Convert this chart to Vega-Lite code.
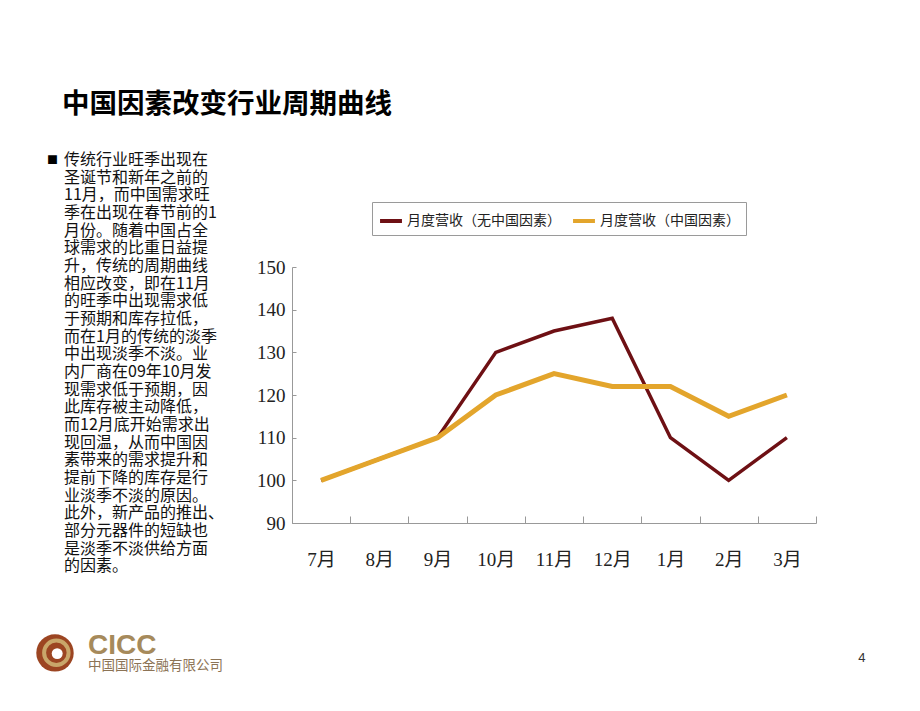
{
  "$schema": "https://vega.github.io/schema/vega-lite/v6.json",
  "background": "white",
  "padding": {"left": 36, "top": 90, "right": 5, "bottom": 5},
  "bounds": "flush",
  "spacing": 228,
  "resolve": {"scale": {"color": "independent"}, "legend": {"color": "independent"}},
  "title": {"text": "中国因素改变行业周期曲线", "anchor": "start", "dx": 26, "offset": 33, "fontSize": 27.5, "font": "Noto Sans CJK SC", "fontWeight": "bold", "color": "#000"},
  "hconcat": [
    {
      "width": 17,
      "height": 424,
      "layer": [
        {
          "data": {"values": [
            {"line": 1, "t": "传统行业旺季出现在"},
            {"line": 2, "t": "圣诞节和新年之前的"},
            {"line": 3, "t": "11月，而中国需求旺"},
            {"line": 4, "t": "季在出现在春节前的1"},
            {"line": 5, "t": "月份。随着中国占全"},
            {"line": 6, "t": "球需求的比重日益提"},
            {"line": 7, "t": "升，传统的周期曲线"},
            {"line": 8, "t": "相应改变，即在11月"},
            {"line": 9, "t": "的旺季中出现需求低"},
            {"line": 10, "t": "于预期和库存拉低，"},
            {"line": 11, "t": "而在1月的传统的淡季"},
            {"line": 12, "t": "中出现淡季不淡。业"},
            {"line": 13, "t": "内厂商在09年10月发"},
            {"line": 14, "t": "现需求低于预期，因"},
            {"line": 15, "t": "此库存被主动降低，"},
            {"line": 16, "t": "而12月底开始需求出"},
            {"line": 17, "t": "现回温，从而中国因"},
            {"line": 18, "t": "素带来的需求提升和"},
            {"line": 19, "t": "提前下降的库存是行"},
            {"line": 20, "t": "业淡季不淡的原因。"},
            {"line": 21, "t": "此外，新产品的推出、"},
            {"line": 22, "t": "部分元器件的短缺也"},
            {"line": 23, "t": "是淡季不淡供给方面"},
            {"line": 24, "t": "的因素。"}
          ]},
          "mark": {"type": "text", "align": "left", "baseline": "middle", "fontSize": 16, "font": "Noto Sans CJK SC", "color": "#111"},
          "encoding": {
            "x": {"datum": 1, "type": "quantitative", "scale": {"domain": [0, 1], "nice": false, "zero": false}, "axis": null},
            "y": {"field": "line", "type": "quantitative", "scale": {"domain": [0.5, 24.5], "reverse": true, "nice": false, "zero": false}, "axis": null},
            "text": {"field": "t"}
          }
        },
        {
          "data": {"values": [{}]},
          "mark": {"type": "text", "align": "left", "baseline": "middle", "fontSize": 11, "font": "Noto Sans CJK SC", "color": "#000", "text": "■"},
          "encoding": {
            "x": {"datum": 0, "type": "quantitative"},
            "y": {"datum": 1.05, "type": "quantitative"}
          }
        },
        {
          "data": {"values": [{}]},
          "mark": {"type": "point", "shape": "circle", "filled": true, "size": 1400, "color": "#9C4522", "opacity": 1},
          "encoding": {
            "x": {"datum": 0.47, "type": "quantitative"},
            "y": {"datum": 28.91, "type": "quantitative"}
          }
        },
        {
          "data": {"values": [{}]},
          "mark": {"type": "point", "shape": "circle", "filled": false, "size": 600, "color": "#C9A66A", "strokeWidth": 4, "opacity": 1},
          "encoding": {
            "x": {"datum": 0.55, "type": "quantitative"},
            "y": {"datum": 28.9, "type": "quantitative"}
          }
        },
        {
          "data": {"values": [{}]},
          "mark": {"type": "point", "shape": "circle", "filled": true, "size": 120, "color": "#ffffff", "opacity": 1},
          "encoding": {
            "x": {"datum": 0.6, "type": "quantitative"},
            "y": {"datum": 28.95, "type": "quantitative"}
          }
        },
        {
          "data": {"values": [{}]},
          "mark": {"type": "text", "align": "left", "baseline": "middle", "fontSize": 28, "font": "Liberation Sans", "fontWeight": "bold", "color": "#A68A5B", "text": "CICC"},
          "encoding": {
            "x": {"datum": 2.41, "type": "quantitative"},
            "y": {"datum": 28.52, "type": "quantitative"}
          }
        },
        {
          "data": {"values": [{}]},
          "mark": {"type": "text", "align": "left", "baseline": "middle", "fontSize": 13.5, "font": "Noto Sans CJK SC", "color": "#8C7355", "text": "中国国际金融有限公司"},
          "encoding": {
            "x": {"datum": 2.41, "type": "quantitative"},
            "y": {"datum": 29.65, "type": "quantitative"}
          }
        },
        {
          "data": {"values": [{}]},
          "mark": {"type": "text", "align": "center", "baseline": "middle", "fontSize": 13, "font": "Liberation Sans", "color": "#333", "text": "4"},
          "encoding": {
            "x": {"datum": 47.94, "type": "quantitative"},
            "y": {"datum": 29.2, "type": "quantitative"}
          }
        }
      ]
    },
    {
      "width": 524,
      "height": 372,
      "data": {"values": [
        {"month": "7月", "series": "月度营收（无中国因素）", "value": 100},
        {"month": "8月", "series": "月度营收（无中国因素）", "value": 105},
        {"month": "9月", "series": "月度营收（无中国因素）", "value": 110},
        {"month": "10月", "series": "月度营收（无中国因素）", "value": 130},
        {"month": "11月", "series": "月度营收（无中国因素）", "value": 135},
        {"month": "12月", "series": "月度营收（无中国因素）", "value": 138},
        {"month": "1月", "series": "月度营收（无中国因素）", "value": 110},
        {"month": "2月", "series": "月度营收（无中国因素）", "value": 100},
        {"month": "3月", "series": "月度营收（无中国因素）", "value": 110},
        {"month": "7月", "series": "月度营收（中国因素）", "value": 100},
        {"month": "8月", "series": "月度营收（中国因素）", "value": 105},
        {"month": "9月", "series": "月度营收（中国因素）", "value": 110},
        {"month": "10月", "series": "月度营收（中国因素）", "value": 120},
        {"month": "11月", "series": "月度营收（中国因素）", "value": 125},
        {"month": "12月", "series": "月度营收（中国因素）", "value": 122},
        {"month": "1月", "series": "月度营收（中国因素）", "value": 122},
        {"month": "2月", "series": "月度营收（中国因素）", "value": 115},
        {"month": "3月", "series": "月度营收（中国因素）", "value": 120}
      ]},
      "encoding": {
        "x": {"field": "month", "type": "ordinal", "sort": ["7月", "8月", "9月", "10月", "11月", "12月", "1月", "2月", "3月"],
          "scale": {"type": "band", "paddingInner": 0, "paddingOuter": 0},
          "axis": {"title": null, "labelAngle": 0, "tickBand": "extent", "tickSize": -7, "tickColor": "#999", "domainColor": "#999", "labelPadding": 34, "labelFont": "Liberation Serif, Noto Sans CJK SC", "labelFontSize": 19, "labelColor": "#222", "grid": false}},
        "y": {"field": "value", "type": "quantitative",
          "scale": {"domain": [90, 150], "range": [372, 116], "nice": false, "zero": false},
          "axis": {"title": null, "values": [90, 100, 110, 120, 130, 140, 150], "tickSize": -4, "tickColor": "#999", "domainColor": "#999", "labelPadding": 11, "labelFont": "Liberation Serif", "labelFontSize": 19, "labelColor": "#222", "grid": false}},
        "color": {"field": "series", "type": "nominal",
          "scale": {"domain": ["月度营收（无中国因素）", "月度营收（中国因素）"], "range": ["#6E1014", "#E3A52C"]},
          "legend": {"orient": "none", "legendX": 80, "legendY": 51, "direction": "horizontal", "title": null, "strokeColor": "#9a9a9a", "padding": 6, "symbolType": "stroke", "symbolSize": 480, "symbolStrokeWidth": 4, "labelFontSize": 14, "labelFont": "Noto Sans CJK SC", "labelColor": "#222", "labelOffset": 3, "columnPadding": 4, "labelLimit": 300}}
      },
      "layer": [
        {"transform": [{"filter": "datum.series === '月度营收（无中国因素）'"}], "mark": {"type": "line", "strokeWidth": 3.5}},
        {"transform": [{"filter": "datum.series === '月度营收（中国因素）'"}], "mark": {"type": "line", "strokeWidth": 5}}
      ]
    }
  ],
  "config": {"view": {"stroke": null}, "font": "Noto Sans CJK SC"}
}
